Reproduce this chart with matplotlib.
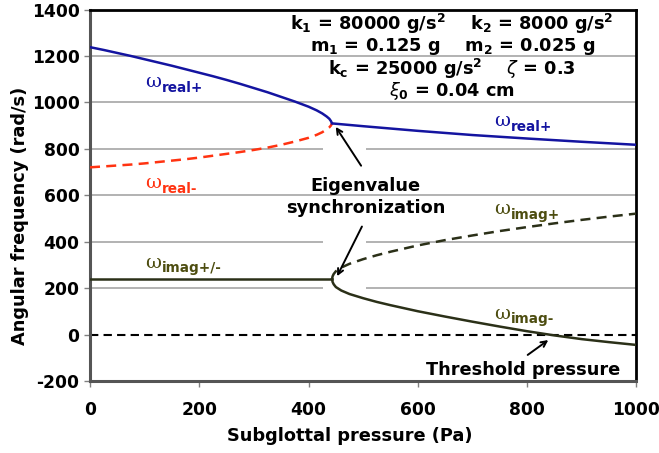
import matplotlib
matplotlib.use("Agg")
import matplotlib.pyplot as plt

# Real parts of the eigenvalues, before synchronization
p_real_split = [0, 25, 50, 75, 100, 125, 150, 175, 200, 225, 250, 275, 300, 325,
                350, 375, 400, 415, 425, 433, 438, 441, 443]
w_real_plus = [1238, 1226, 1213, 1200, 1186, 1172, 1158, 1143, 1128, 1113, 1097,
               1080, 1062, 1044, 1024, 1004, 982, 966, 953, 940, 930, 920, 910]
w_real_minus = [721, 725, 729, 733, 738, 744, 750, 756, 763, 771, 779, 787, 796,
                806, 818, 832, 848, 861, 872, 884, 893, 901, 910]

# Merged real part after synchronization
p_real_merged = [443, 500, 600, 700, 800, 900, 1000]
w_real_merged = [910, 898, 878, 860, 845, 831, 818]

# Imaginary parts
p_imag_flat = [0, 443]
w_imag_flat = [240, 240]
p_imag_split = [443, 444, 446, 450, 460, 475, 500, 525, 550, 600, 650, 700, 750,
                800, 850, 900, 950, 1000]
w_imag_plus = [240, 252, 262, 274, 290, 306, 326, 343, 358, 385, 408, 428, 447,
               464, 480, 495, 509, 522]
w_imag_minus = [240, 228, 218, 206, 191, 176, 158, 142, 128, 102, 79, 57, 36,
                16, -2, -18, -31, -43]

x_ticks = [0, 200, 400, 600, 800, 1000]
y_ticks = [-200, 0, 200, 400, 600, 800, 1000, 1200, 1400]
# gridlines that are interrupted around the synchronization callout
grid_broken = [200, 400, 800]
grid_gap = (427, 506)

BLUE = "#1414a0"
RED = "#ff3311"
OLIVE = "#2b3018"
OLIVE_TXT = "#4d4d10"
FS = 12.8

plt.rcParams["font.family"] = "DejaVu Sans"
plt.rcParams["mathtext.fontset"] = "dejavusans"
plt.rcParams["axes.unicode_minus"] = False

fig = plt.figure(figsize=(6.59, 4.53), dpi=100)
ax = fig.add_axes([0.1366, 0.158, 0.829, 0.821])

grid_kw = dict(color="#a6a6a6", lw=1.2, zorder=1)
for y in y_ticks[2:-1]:
    if y in grid_broken:
        ax.hlines(y, 0, grid_gap[0], **grid_kw)
        ax.hlines(y, grid_gap[1], 1000, **grid_kw)
    else:
        ax.axhline(y, **grid_kw)

ax.plot(p_real_split, w_real_plus, color=BLUE, lw=1.8, zorder=3)
ax.plot(p_real_split, w_real_minus, color=RED, lw=1.8, ls=(0, (4, 2.5)), zorder=3)
ax.plot(p_real_merged, w_real_merged, color=BLUE, lw=1.8, zorder=3)

ax.plot(p_imag_flat, w_imag_flat, color=OLIVE, lw=1.8, zorder=3)
ax.plot(p_imag_split, w_imag_plus, color=OLIVE, lw=1.8, ls=(0, (4, 2.5)), zorder=3)
ax.plot(p_imag_split, w_imag_minus, color=OLIVE, lw=1.8, zorder=3)

ax.axhline(0, color="black", lw=1.5, ls=(0, (4, 2.5)), zorder=2)

ax.set_xlim(0, 1000)
ax.set_ylim(-200, 1400)
ax.set_xticks(x_ticks)
ax.set_yticks(y_ticks)
ax.tick_params(labelsize=12.3, length=4, width=1, color="#808080", direction="out")
for lab in ax.get_xticklabels() + ax.get_yticklabels():
    lab.set_fontweight("bold")
ax.tick_params(axis="x", pad=10)

for side in ["left", "bottom"]:
    ax.spines[side].set_linewidth(2.2)
    ax.spines[side].set_color("#555555")
for side in ["top", "right"]:
    ax.spines[side].set_linewidth(2)
    ax.spines[side].set_color("black")

ax.set_xlabel("Subglottal pressure (Pa)", fontsize=FS, fontweight="bold")
ax.set_ylabel("Angular frequency (rad/s)", fontsize=FS, fontweight="bold")
ax.xaxis.set_label_coords(0.476, -0.122)
ax.yaxis.set_label_coords(-0.112, 0.445)

# Model parameters
params = [
    r"k$_\mathbf{1}$ = 80000 g/s$^\mathbf{2}$    k$_\mathbf{2}$ = 8000 g/s$^\mathbf{2}$",
    r"m$_\mathbf{1}$ = 0.125 g    m$_\mathbf{2}$ = 0.025 g",
    r"k$_\mathbf{c}$ = 25000 g/s$^\mathbf{2}$    $\zeta$ = 0.3",
    r"$\xi_\mathbf{0}$ = 0.04 cm",
]
for i, line in enumerate(params):
    ax.text(663, 1340 - i * 97, line, ha="center", va="center",
            fontsize=FS, fontweight="bold", zorder=4)


def omega_label(x, y, sub, color):
    w = ax.text(x, y, "ω", color=color, fontsize=14, family="DejaVu Serif",
                ha="left", va="baseline", zorder=4)
    ax.annotate(sub, xy=(1, 0), xycoords=w, xytext=(0.5, -0.5),
                textcoords="offset points", fontsize=9.8, fontweight="bold",
                color=color, ha="left", va="baseline", zorder=4)


omega_label(101, 1066, "real+", BLUE)
omega_label(101, 630, "real-", RED)
omega_label(740, 899, "real+", BLUE)
omega_label(740, 520, "imag+", OLIVE_TXT)
omega_label(101, 290, "imag+/-", OLIVE_TXT)
omega_label(740, 70, "imag-", OLIVE_TXT)

ax.text(505, 642, "Eigenvalue", ha="center", va="center", fontsize=FS,
        fontweight="bold", zorder=4)
ax.text(505, 548, "synchronization", ha="center", va="center", fontsize=FS,
        fontweight="bold", zorder=4)
arrow = dict(arrowstyle="->", color="black", lw=1.4)
ax.annotate("", xy=(447, 905), xytext=(499, 718), arrowprops=arrow, zorder=4)
ax.annotate("", xy=(450, 242), xytext=(500, 477), arrowprops=arrow, zorder=4)

ax.text(793, -152, "Threshold pressure", ha="center", va="center", fontsize=FS,
        fontweight="bold", zorder=4)
ax.annotate("", xy=(843, -15), xytext=(797, -93), arrowprops=arrow, zorder=4)

fig.savefig("out.png", dpi=100)
